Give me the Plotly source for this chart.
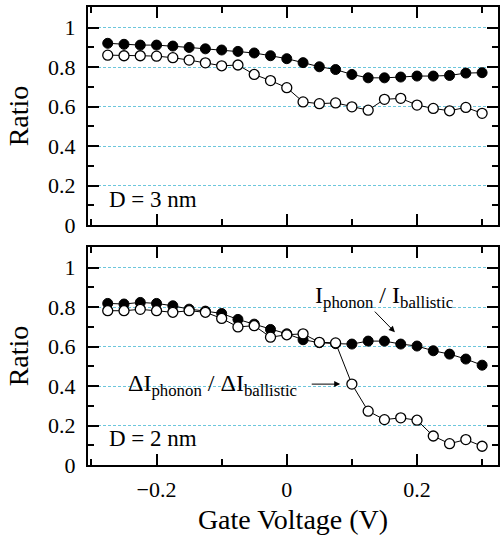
import plotly.graph_objects as go

# Gate voltage sweep (V)
gate_voltage = [-0.275, -0.25, -0.225, -0.2, -0.175, -0.15, -0.125, -0.1,
                -0.075, -0.05, -0.025, 0.0, 0.025, 0.05, 0.075, 0.1,
                0.125, 0.15, 0.175, 0.2, 0.225, 0.25, 0.275, 0.3]

# D = 3 nm
ratio_current_3nm = [0.921, 0.916, 0.912, 0.912, 0.907, 0.900, 0.893, 0.887,
                     0.880, 0.872, 0.858, 0.843, 0.823, 0.802, 0.788, 0.763,
                     0.746, 0.746, 0.750, 0.755, 0.755, 0.758, 0.770, 0.772]
ratio_delta_3nm = [0.861, 0.858, 0.858, 0.856, 0.848, 0.836, 0.822, 0.807,
                   0.811, 0.763, 0.732, 0.696, 0.624, 0.615, 0.619, 0.599,
                   0.582, 0.637, 0.642, 0.608, 0.591, 0.579, 0.596, 0.566]

# D = 2 nm
ratio_current_2nm = [0.819, 0.816, 0.824, 0.819, 0.807, 0.790, 0.780, 0.768,
                     0.738, 0.714, 0.687, 0.665, 0.635, 0.620, 0.615, 0.613,
                     0.628, 0.628, 0.613, 0.603, 0.579, 0.562, 0.537, 0.506]
ratio_delta_2nm = [0.782, 0.782, 0.789, 0.782, 0.774, 0.782, 0.774, 0.743,
                   0.700, 0.706, 0.648, 0.660, 0.665, 0.622, 0.619, 0.410,
                   0.273, 0.230, 0.239, 0.227, 0.147, 0.108, 0.129, 0.095]

FONT = "Liberation Serif"
GRID = "#6cc6dc"

fig = go.Figure()


def add_pair(xa, ya, filled, hollow):
    fig.add_trace(go.Scatter(
        x=gate_voltage, y=filled, xaxis=xa, yaxis=ya, mode="lines+markers",
        line=dict(color="black", width=1),
        marker=dict(symbol="circle", size=10, color="black",
                    line=dict(color="black", width=1)),
        showlegend=False))
    fig.add_trace(go.Scatter(
        x=gate_voltage, y=hollow, xaxis=xa, yaxis=ya, mode="lines+markers",
        line=dict(color="black", width=1),
        marker=dict(symbol="circle", size=10, color="white",
                    line=dict(color="black", width=1.3)),
        showlegend=False))


add_pair("x", "y", ratio_current_3nm, ratio_delta_3nm)
add_pair("x2", "y2", ratio_current_2nm, ratio_delta_2nm)

x_range = [-0.3053, 0.3244]
y_range = [0, 1.105]

xaxis_common = dict(
    range=x_range, showline=True, linecolor="black", linewidth=2,
    mirror="allticks", ticks="inside", ticklen=11, tickwidth=1.5,
    tickcolor="black", tick0=0, dtick=0.2, showgrid=False, zeroline=False,
    minor=dict(dtick=0.1, ticks="inside", ticklen=6, tickwidth=1.5,
               tickcolor="black", showgrid=False),
    tickfont=dict(family=FONT, size=22, color="black"),
)
yaxis_common = dict(
    range=y_range, showline=True, linecolor="black", linewidth=2,
    mirror="allticks", ticks="inside", ticklen=11, tickwidth=1.5,
    tickcolor="black", tick0=0, dtick=0.2, zeroline=False,
    showgrid=True, gridcolor=GRID, griddash="3px,2px", gridwidth=1,
    minor=dict(dtick=0.1, ticks="inside", ticklen=6, tickwidth=1.5,
               tickcolor="black", showgrid=False),
    tickfont=dict(family=FONT, size=22, color="black"),
    ticklabelstandoff=6,
    title=dict(text="Ratio", font=dict(family=FONT, size=28, color="black"),
               standoff=11),
)

fig.update_layout(
    width=503, height=535,
    margin=dict(l=88, r=3, t=7, b=70),
    paper_bgcolor="white", plot_bgcolor="white",
    xaxis=dict(xaxis_common, anchor="y", domain=[0, 1], showticklabels=False),
    yaxis=dict(yaxis_common, anchor="x", domain=[0.524, 1]),
    xaxis2=dict(xaxis_common, anchor="y2", domain=[0, 1],
                ticklabelstandoff=4,
                title=dict(text="Gate Voltage (V)",
                           font=dict(family=FONT, size=28, color="black"),
                           standoff=8)),
    yaxis2=dict(yaxis_common, anchor="x2", domain=[0, 0.476]),
)

text_font = dict(family=FONT, size=23, color="black")

fig.add_annotation(x=-0.276, y=0.13, xref="x", yref="y", text="D = 3 nm",
                   showarrow=False, xanchor="left", yanchor="middle",
                   font=text_font)
fig.add_annotation(x=-0.276, y=0.134, xref="x2", yref="y2", text="D = 2 nm",
                   showarrow=False, xanchor="left", yanchor="middle",
                   font=text_font)

label_font = dict(family=FONT, size=24, color="black")
fig.add_annotation(x=0.04, y=0.85, xref="x2", yref="y2",
                   text="I<sub>phonon</sub> / I<sub>ballistic</sub>",
                   showarrow=False, xanchor="left", yanchor="middle",
                   font=label_font)
fig.add_annotation(x=-0.247, y=0.405, xref="x2", yref="y2",
                   text="\u0394I<sub>phonon</sub> / \u0394I<sub>ballistic</sub>",
                   showarrow=False, xanchor="left", yanchor="middle",
                   font=label_font)

# Pointer arrows
fig.add_annotation(x=0.166, y=0.673, xref="x2", yref="y2",
                   ax=0.133, ay=0.785, axref="x2", ayref="y2",
                   text="", showarrow=True, arrowhead=2, arrowsize=1.2,
                   arrowwidth=1, arrowcolor="black")
fig.add_annotation(x=0.082, y=0.41, xref="x2", yref="y2",
                   ax=0.036, ay=0.41, axref="x2", ayref="y2",
                   text="", showarrow=True, arrowhead=2, arrowsize=1.2,
                   arrowwidth=1, arrowcolor="black")

fig.write_html("out.html")
